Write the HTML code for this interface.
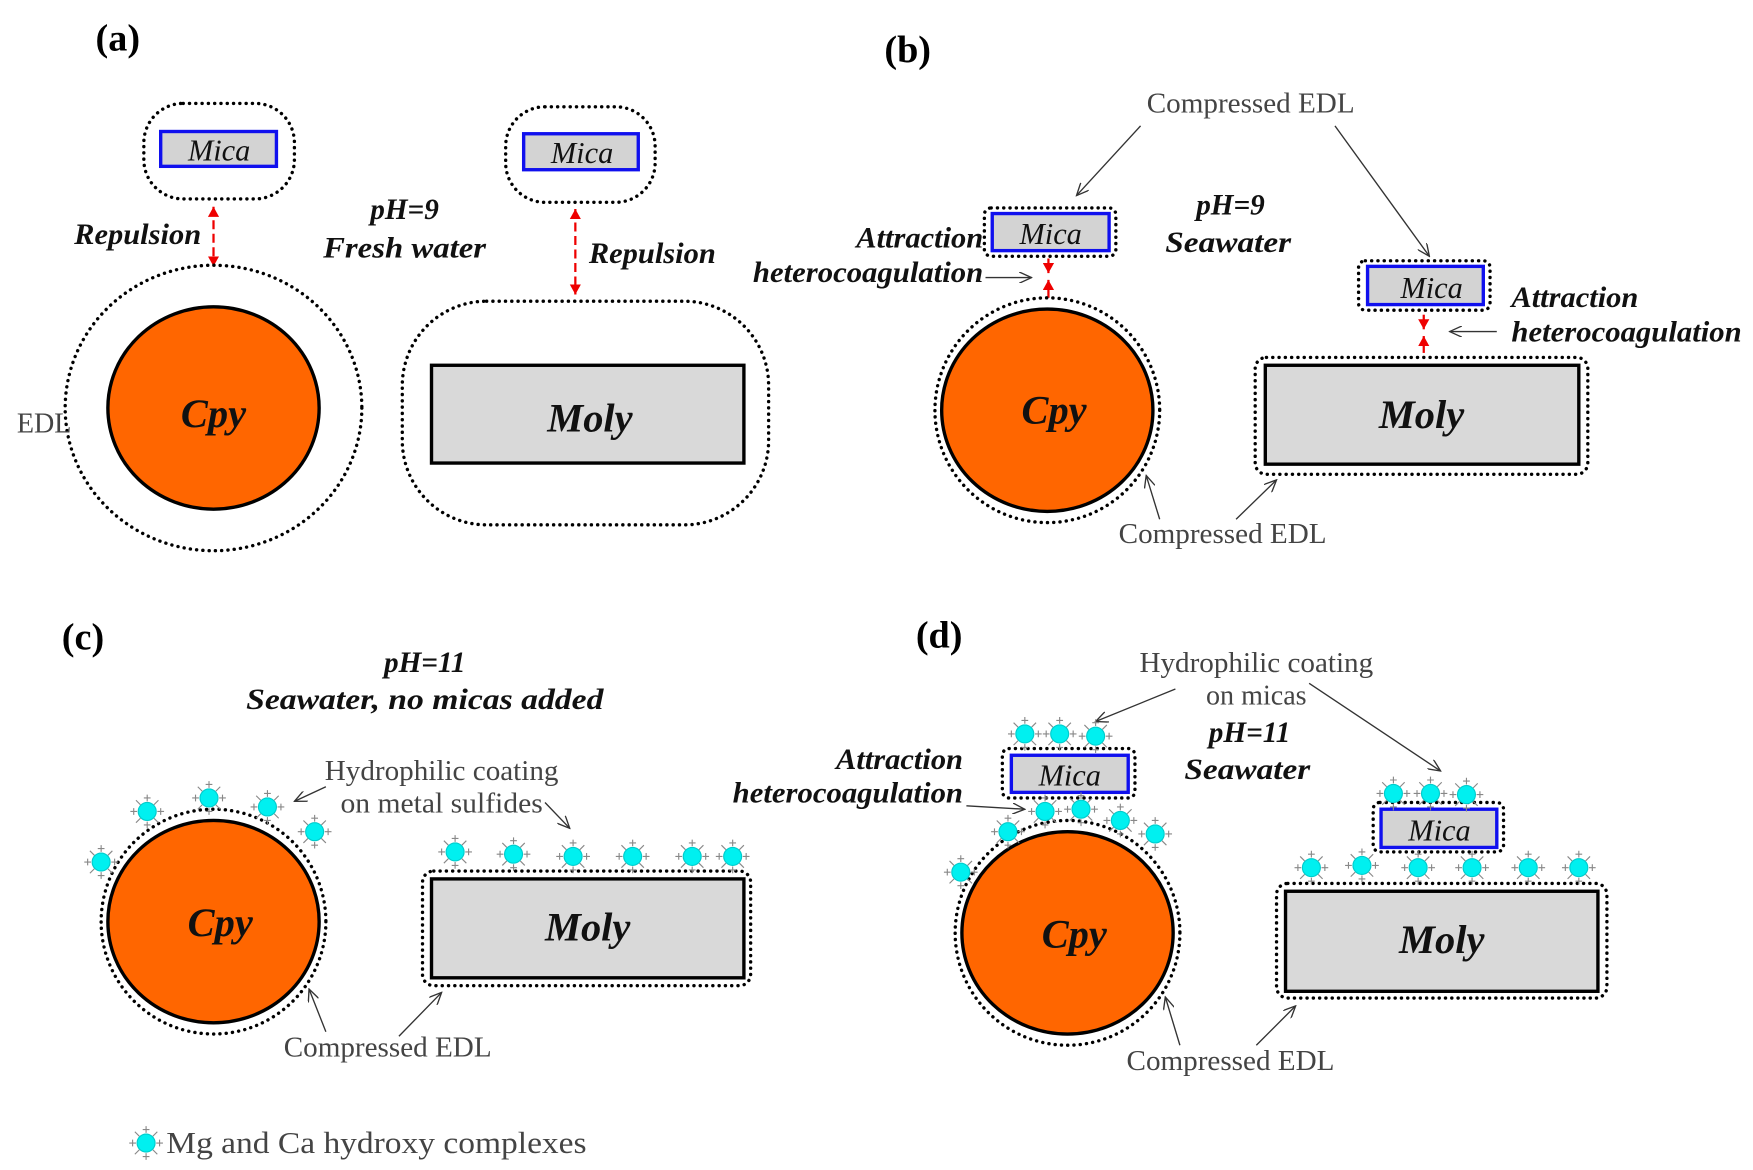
<!DOCTYPE html>
<html><head><meta charset="utf-8"><style>
html,body{margin:0;padding:0;background:#fff;}
svg{display:block;}
.lbl{font-family:"Liberation Serif",serif;font-weight:bold;font-size:34px;}
.it{font-family:"Liberation Serif",serif;font-style:italic;font-weight:bold;font-size:26px;fill:#111;}
.big{font-family:"Liberation Serif",serif;font-style:italic;font-weight:bold;font-size:36px;fill:#111;}
.mic{font-family:"Liberation Serif",serif;font-style:italic;font-size:27px;fill:#111;}
.g{font-family:"Liberation Serif",serif;font-size:25px;fill:#444;}
.dot{fill:none;stroke:#000;stroke-width:3;stroke-dasharray:0.1 5.5;stroke-linecap:round;}
.mica{fill:#d3d3d3;stroke:#1010ee;stroke-width:3;}
.cpy{fill:#ff6600;stroke:#000;stroke-width:3;}
.moly{fill:#d9d9d9;stroke:#000;stroke-width:3;}
.ar{stroke:#333;stroke-width:1.2;fill:none;marker-end:url(#ah);}
.red{stroke:#e00;stroke-width:2;stroke-dasharray:8 4;fill:none;marker-end:url(#rh);marker-start:url(#rhs);}
.rs{stroke:#e00;stroke-width:2;fill:none;marker-end:url(#rh);}
</style></head><body>
<svg width="1753" height="1170" viewBox="0 0 1560 1041" preserveAspectRatio="none" xmlns="http://www.w3.org/2000/svg">
<defs>
<marker id="ah" markerWidth="12" markerHeight="10" refX="11" refY="5" orient="auto" markerUnits="userSpaceOnUse"><path d="M0,0 L11,5 L0,10" fill="none" stroke="#333" stroke-width="1.2"/></marker>
<marker id="rh" markerWidth="10" markerHeight="10" refX="9" refY="5" orient="auto" markerUnits="userSpaceOnUse"><path d="M0,0 L9,5 L0,10 Z" fill="#e00"/></marker>
<marker id="rhs" markerWidth="10" markerHeight="10" refX="1" refY="5" orient="auto" markerUnits="userSpaceOnUse"><path d="M10,0 L1,5 L10,10 Z" fill="#e00"/></marker>
<g id="ball">
<g stroke="#888" stroke-width="1">
<path d="M0,-15v6M-3,-12h6M0,15v-6M-3,12h6M-15,0h6M-12,-3v6M15,0h-6M12,-3v6M-10,-10l4,4M10,-10l-4,4M-10,10l4,-4M10,10l-4,-4"/>
</g>
<circle r="8" fill="#00f0f0" stroke="#0cc" stroke-width="1"/>
</g>
</defs>

<!-- (a) -->
<text class="lbl" x="85" y="45">(a)</text>
<rect class="dot" x="128" y="92" width="134" height="85" rx="35"/>
<rect class="mica" x="143" y="117" width="103" height="31"/>
<text class="mic" x="195" y="143" text-anchor="middle">Mica</text>
<line class="red" x1="190" y1="184" x2="190" y2="237"/>
<text class="it" x="66" y="217" textLength="113" lengthAdjust="spacingAndGlyphs">Repulsion</text>
<ellipse class="dot" cx="190" cy="363" rx="132" ry="127"/>
<ellipse class="cpy" cx="190" cy="363" rx="94" ry="90"/>
<text class="big" x="190" y="380" text-anchor="middle">Cpy</text>
<text class="g" x="15" y="385">EDL</text>
<text class="it" x="360" y="195" text-anchor="middle">pH=9</text>
<text class="it" x="360" y="229" text-anchor="middle" textLength="145" lengthAdjust="spacingAndGlyphs">Fresh water</text>
<rect class="dot" x="450" y="95" width="133" height="85" rx="35"/>
<rect class="mica" x="466" y="119" width="102" height="32"/>
<text class="mic" x="518" y="145" text-anchor="middle">Mica</text>
<line class="red" x1="512" y1="186" x2="512" y2="262"/>
<text class="it" x="524" y="234" textLength="113" lengthAdjust="spacingAndGlyphs">Repulsion</text>
<rect class="dot" x="358" y="268" width="326" height="199" rx="75"/>
<rect class="moly" x="384" y="325" width="278" height="87"/>
<text class="big" x="525" y="384" text-anchor="middle">Moly</text>

<!-- (b) -->
<text class="lbl" x="787" y="55">(b)</text>
<text class="g" x="1113" y="100" text-anchor="middle" textLength="185" lengthAdjust="spacingAndGlyphs">Compressed EDL</text>
<line class="ar" x1="1015" y1="112" x2="958" y2="174"/>
<line class="ar" x1="1188" y1="112" x2="1272" y2="228"/>
<rect class="dot" x="876" y="185" width="117" height="43" rx="6"/>
<rect class="mica" x="883" y="190" width="104" height="33"/>
<text class="mic" x="935" y="217" text-anchor="middle">Mica</text>
<text class="it" x="1095" y="191" text-anchor="middle">pH=9</text>
<text class="it" x="1093" y="224" text-anchor="middle" textLength="112" lengthAdjust="spacingAndGlyphs">Seawater</text>
<text class="it" x="875" y="220" text-anchor="end" textLength="113" lengthAdjust="spacingAndGlyphs">Attraction</text>
<text class="it" x="670" y="251" textLength="205" lengthAdjust="spacingAndGlyphs">heterocoagulation</text>
<line class="ar" x1="877" y1="247" x2="918" y2="247"/>
<line class="rs" x1="933" y1="230" x2="933" y2="243"/>
<line class="rs" x1="933" y1="265" x2="933" y2="249"/>
<circle class="dot" cx="932" cy="365" r="100"/>
<ellipse class="cpy" cx="932" cy="365" rx="94" ry="90"/>
<text class="big" x="938" y="377" text-anchor="middle">Cpy</text>
<rect class="dot" x="1209" y="232" width="117" height="44" rx="6"/>
<rect class="mica" x="1217" y="237" width="103" height="34"/>
<text class="mic" x="1274" y="265" text-anchor="middle">Mica</text>
<text class="it" x="1345" y="273" textLength="113" lengthAdjust="spacingAndGlyphs">Attraction</text>
<text class="it" x="1345" y="304" textLength="205" lengthAdjust="spacingAndGlyphs">heterocoagulation</text>
<line class="ar" x1="1332" y1="295" x2="1290" y2="295"/>
<line class="rs" x1="1267" y1="280" x2="1267" y2="293"/>
<line class="rs" x1="1267" y1="314" x2="1267" y2="299"/>
<rect class="dot" x="1117" y="318" width="296" height="104" rx="10"/>
<rect class="moly" x="1126" y="325" width="279" height="88"/>
<text class="big" x="1265" y="381" text-anchor="middle">Moly</text>
<text class="g" x="1088" y="483" text-anchor="middle" textLength="185" lengthAdjust="spacingAndGlyphs">Compressed EDL</text>
<line class="ar" x1="1032" y1="462" x2="1020" y2="423"/>
<line class="ar" x1="1100" y1="462" x2="1136" y2="427"/>

<!-- (c) -->
<text class="lbl" x="55" y="578">(c)</text>
<text class="it" x="378" y="598" text-anchor="middle">pH=11</text>
<text class="it" x="378" y="631" text-anchor="middle" textLength="318" lengthAdjust="spacingAndGlyphs">Seawater, no micas added</text>
<text class="g" x="393" y="694" text-anchor="middle" textLength="208" lengthAdjust="spacingAndGlyphs">Hydrophilic coating</text>
<text class="g" x="393" y="723" text-anchor="middle" textLength="180" lengthAdjust="spacingAndGlyphs">on metal sulfides</text>
<line class="ar" x1="290" y1="700" x2="262" y2="713"/>
<line class="ar" x1="485" y1="714" x2="507" y2="737"/>
<circle class="dot" cx="190" cy="820" r="100"/>
<ellipse class="cpy" cx="190" cy="820" rx="94" ry="90"/>
<text class="big" x="196" y="833" text-anchor="middle">Cpy</text>
<use href="#ball" x="90" y="767"/><use href="#ball" x="131" y="722"/><use href="#ball" x="186" y="710"/><use href="#ball" x="238" y="718"/><use href="#ball" x="280" y="740"/>
<rect class="dot" x="376" y="775" width="292" height="102" rx="10"/>
<rect class="moly" x="384" y="782" width="278" height="88"/>
<text class="big" x="523" y="837" text-anchor="middle">Moly</text>
<use href="#ball" x="405" y="758"/><use href="#ball" x="457" y="760"/><use href="#ball" x="510" y="762"/><use href="#ball" x="563" y="762"/><use href="#ball" x="616" y="762"/><use href="#ball" x="652" y="762"/>
<text class="g" x="345" y="940" text-anchor="middle" textLength="185" lengthAdjust="spacingAndGlyphs">Compressed EDL</text>
<line class="ar" x1="290" y1="918" x2="275" y2="880"/>
<line class="ar" x1="355" y1="922" x2="393" y2="883"/>

<!-- (d) -->
<text class="lbl" x="815" y="576">(d)</text>
<text class="g" x="1118" y="598" text-anchor="middle" textLength="208" lengthAdjust="spacingAndGlyphs">Hydrophilic coating</text>
<text class="g" x="1118" y="627" text-anchor="middle">on micas</text>
<line class="ar" x1="1046" y1="613" x2="975" y2="642"/>
<line class="ar" x1="1165" y1="608" x2="1282" y2="686"/>
<text class="it" x="1112" y="660" text-anchor="middle">pH=11</text>
<text class="it" x="1110" y="693" text-anchor="middle" textLength="112" lengthAdjust="spacingAndGlyphs">Seawater</text>
<rect class="dot" x="892" y="666" width="118" height="44" rx="6"/>
<rect class="mica" x="900" y="672" width="104" height="33"/>
<text class="mic" x="952" y="699" text-anchor="middle">Mica</text>
<use href="#ball" x="912" y="653"/><use href="#ball" x="943" y="653"/><use href="#ball" x="975" y="655"/>
<text class="it" x="857" y="684" text-anchor="end" textLength="113" lengthAdjust="spacingAndGlyphs">Attraction</text>
<text class="it" x="857" y="714" text-anchor="end" textLength="205" lengthAdjust="spacingAndGlyphs">heterocoagulation</text>
<line class="ar" x1="860" y1="717" x2="912" y2="720"/>
<circle class="dot" cx="950" cy="830" r="100"/>
<ellipse class="cpy" cx="950" cy="830" rx="94" ry="90"/>
<text class="big" x="956" y="843" text-anchor="middle">Cpy</text>
<use href="#ball" x="930" y="722"/><use href="#ball" x="962" y="720"/><use href="#ball" x="897" y="740"/><use href="#ball" x="997" y="730"/><use href="#ball" x="1028" y="742"/><use href="#ball" x="855" y="776"/>
<rect class="dot" x="1222" y="714" width="116" height="44" rx="6"/>
<rect class="mica" x="1229" y="720" width="103" height="34"/>
<text class="mic" x="1281" y="748" text-anchor="middle">Mica</text>
<use href="#ball" x="1240" y="706"/><use href="#ball" x="1273" y="706"/><use href="#ball" x="1305" y="707"/>
<rect class="dot" x="1136" y="786" width="294" height="102" rx="10"/>
<rect class="moly" x="1144" y="793" width="278" height="89"/>
<text class="big" x="1283" y="848" text-anchor="middle">Moly</text>
<use href="#ball" x="1167" y="772"/><use href="#ball" x="1212" y="770"/><use href="#ball" x="1262" y="772"/><use href="#ball" x="1310" y="772"/><use href="#ball" x="1360" y="772"/><use href="#ball" x="1405" y="772"/>
<text class="g" x="1095" y="952" text-anchor="middle" textLength="185" lengthAdjust="spacingAndGlyphs">Compressed EDL</text>
<line class="ar" x1="1050" y1="930" x2="1037" y2="887"/>
<line class="ar" x1="1118" y1="930" x2="1153" y2="895"/>

<!-- legend -->
<use href="#ball" x="130" y="1017"/>
<text class="g" x="148" y="1026" style="font-size:27px" textLength="374" lengthAdjust="spacingAndGlyphs">Mg and Ca hydroxy complexes</text>
</svg>
</body></html>
